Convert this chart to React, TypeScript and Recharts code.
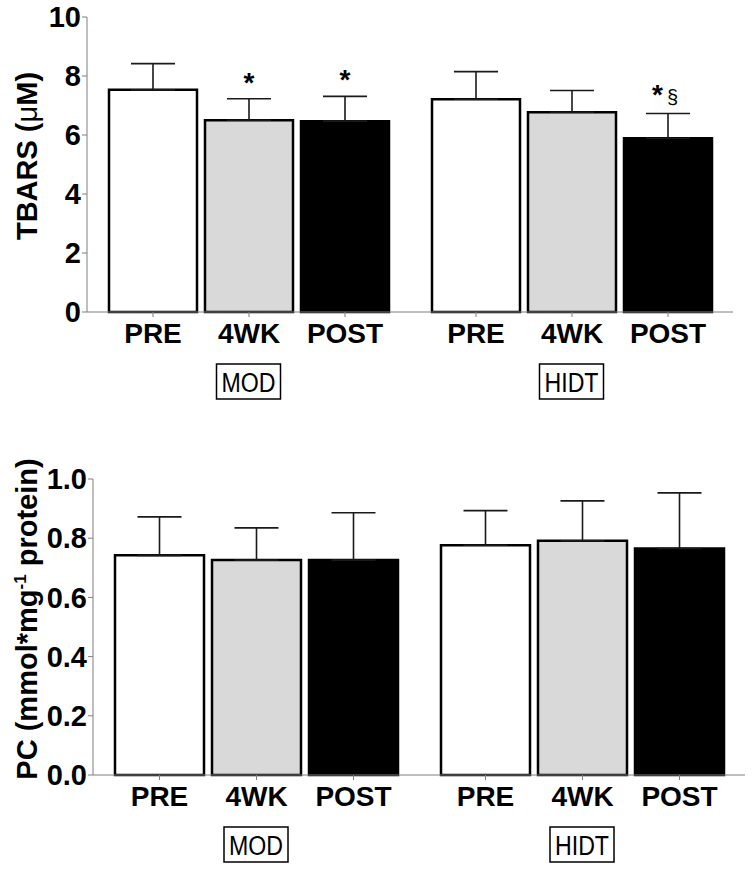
import React from "react";
import { BarChart, Bar, XAxis, YAxis, ErrorBar, LabelList } from "recharts";

const groups = ["MOD", "HIDT"];
const timepoints = ["PRE", "4WK", "POST"];

// TBARS (uM), mean and SD per group
const tbarsPre = [7.53, 7.21];
const tbarsPreSd = [0.89, 0.94];
const tbars4wk = [6.5, 6.77];
const tbars4wkSd = [0.73, 0.74];
const tbarsPost = [6.47, 5.89];
const tbarsPostSd = [0.84, 0.84];
const tbarsTicks = [0, 2, 4, 6, 8, 10];

// significance marks per timepoint (MOD, HIDT)
const tbarsSigPre = ["", ""];
const tbarsSig4wk = ["*", ""];
const tbarsSigPost = ["*", "*§"];

// protein carbonyls
const pcPre = [0.742, 0.776];
const pcPreSd = [0.13, 0.117];
const pc4wk = [0.726, 0.791];
const pc4wkSd = [0.109, 0.135];
const pcPost = [0.726, 0.765];
const pcPostSd = [0.16, 0.188];
const pcTicks = [0, 0.2, 0.4, 0.6, 0.8, 1.0];

const FONT = "'Liberation Sans', Arial, sans-serif";
const AXIS_GREY = "#7f7f7f";
const fills = ["#ffffff", "#d9d9d9", "#000000"];
const keys = ["pre", "wk4", "post"];

function buildRows(means: number[][], sds: number[][]) {
  return groups.map((g, i) => {
    const row: any = { group: g };
    keys.forEach((k, j) => {
      row[k] = means[j][i];
      row[k + "Err"] = [0, sds[j][i]];
    });
    return row;
  });
}

const tbarsData = buildRows([tbarsPre, tbars4wk, tbarsPost], [tbarsPreSd, tbars4wkSd, tbarsPostSd]);
const pcData = buildRows([pcPre, pc4wk, pcPost], [pcPreSd, pc4wkSd, pcPostSd]);

function GroupTick(props: any) {
  const { x, y, payload } = props;
  return (
    <g>
      <rect x={x - 32} y={y + 52} width={64} height={35} fill="#fff" stroke="#000" strokeWidth={1.5} />
      <text
        x={x}
        y={y + 80}
        textAnchor="middle"
        fontSize={27}
        fontFamily={FONT}
        fill="#000"
        textLength={54}
        lengthAdjust="spacingAndGlyphs"
      >
        {payload.value}
      </text>
    </g>
  );
}

function makeYTick(digits: number) {
  return (props: any) => {
    const { x, y, payload } = props;
    return (
      <g className="y-tick">
        <text
          x={x}
          y={y}
          dy="0.355em"
          textAnchor="end"
          style={{ fontSize: 29, fontWeight: 700, fontFamily: FONT, fill: "#000" }}
        >
          {Number(payload.value).toFixed(digits)}
        </text>
      </g>
    );
  };
}

function makeBarLabel(name: string, sd: number[], sig: string[] | null) {
  return (p: any) => {
    const vb = p.viewBox || p;
    const x = Number(vb.x);
    const y = Number(vb.y);
    const w = Number(vb.width);
    const h = Number(vb.height);
    const cx = x + w / 2;
    const bottom = y + h;
    const val = Number(p.value);
    const mark = sig ? sig[p.index] : "";
    const capY = y - (sd[p.index] * h) / val;
    return (
      <g>
        <line x1={cx} x2={cx} y1={bottom} y2={bottom + 5} stroke={AXIS_GREY} strokeWidth={1} />
        <text x={cx} y={bottom + 31} textAnchor="middle" fontSize={28} fontWeight="bold" fontFamily={FONT} fill="#000">
          {name}
        </text>
        {mark === "*" && (
          <text x={cx} y={capY - 7} textAnchor="middle" fontSize={28} fontWeight="bold" fontFamily={FONT} fill="#000">
            *
          </text>
        )}
        {mark === "*§" && (
          <text x={cx - 3} y={capY - 9} textAnchor="middle" fontFamily={FONT} fill="#000">
            <tspan fontSize={28} fontWeight="bold">*</tspan>
            <tspan fontSize={20} dx={4}>§</tspan>
          </text>
        )}
      </g>
    );
  };
}

function YTitle({ children, cx, cy }: { children: React.ReactNode; cx: number; cy: number }) {
  return (
    <text
      x={cx}
      y={cy}
      transform={`rotate(-90, ${cx}, ${cy})`}
      textAnchor="middle"
      fontSize={29}
      fontWeight="bold"
      fontFamily={FONT}
      fill="#000"
    >
      {children}
    </text>
  );
}

export default function App() {
  const tbarsSig = [tbarsSigPre, tbarsSig4wk, tbarsSigPost];
  const tbarsSds = [tbarsPreSd, tbars4wkSd, tbarsPostSd];
  const pcSds = [pcPreSd, pc4wkSd, pcPostSd];
  return (
    <div style={{ position: "absolute", left: 0, top: 0, width: 752, height: 871, background: "#fff" }}>
      <div style={{ position: "absolute", left: 0, top: 0 }}>
        <BarChart
          width={752}
          height={412}
          data={tbarsData}
          margin={{ top: 17, right: 19, bottom: 0, left: 0 }}
          barCategoryGap={22}
          barGap={8}
        >
          <XAxis
            dataKey="group"
            height={100}
            stroke={AXIS_GREY}
            tickLine={false}
            tickSize={0}
            tickMargin={0}
            tick={<GroupTick />}
          />
          <YAxis
            width={87}
            domain={[0, 10]}
            ticks={tbarsTicks}
            stroke={AXIS_GREY}
            tickSize={5}
            tickMargin={1}
            tick={makeYTick(0)}
            label={{
              content: () => (
                <YTitle cx={37} cy={156}>
                  TBARS (<tspan fontWeight="normal">μ</tspan>M)
                </YTitle>
              ),
            }}
          />
          {keys.map((k, j) => (
            <Bar key={k} dataKey={k} fill={fills[j]} stroke="#000" strokeWidth={2.5} isAnimationActive={false}>
              <ErrorBar dataKey={k + "Err"} width={22} stroke="#1a1a1a" strokeWidth={1.6} direction="y" />
              <LabelList dataKey={k} content={makeBarLabel(timepoints[j], tbarsSds[j], tbarsSig[j])} />
            </Bar>
          ))}
        </BarChart>
      </div>
      <div style={{ position: "absolute", left: 0, top: 430 }}>
        <BarChart
          width={752}
          height={441}
          data={pcData}
          margin={{ top: 49, right: 7, bottom: 0, left: 0 }}
          barCategoryGap={22}
          barGap={8}
        >
          <XAxis
            dataKey="group"
            height={96}
            stroke={AXIS_GREY}
            tickLine={false}
            tickSize={0}
            tickMargin={0}
            tick={<GroupTick />}
          />
          <YAxis
            width={93}
            domain={[0, 1]}
            ticks={pcTicks}
            stroke={AXIS_GREY}
            tickSize={5}
            tickMargin={1}
            tick={makeYTick(1)}
            label={{
              content: () => (
                <YTitle cx={37} cy={189}>
                  PC (mmol*mg
                  <tspan fontSize={17} dy={-11}>-1</tspan>
                  <tspan dy={11}> protein)</tspan>
                </YTitle>
              ),
            }}
          />
          {keys.map((k, j) => (
            <Bar key={k} dataKey={k} fill={fills[j]} stroke="#000" strokeWidth={2.5} isAnimationActive={false}>
              <ErrorBar dataKey={k + "Err"} width={22} stroke="#1a1a1a" strokeWidth={1.6} direction="y" />
              <LabelList dataKey={k} content={makeBarLabel(timepoints[j], pcSds[j], null)} />
            </Bar>
          ))}
        </BarChart>
      </div>
    </div>
  );
}
